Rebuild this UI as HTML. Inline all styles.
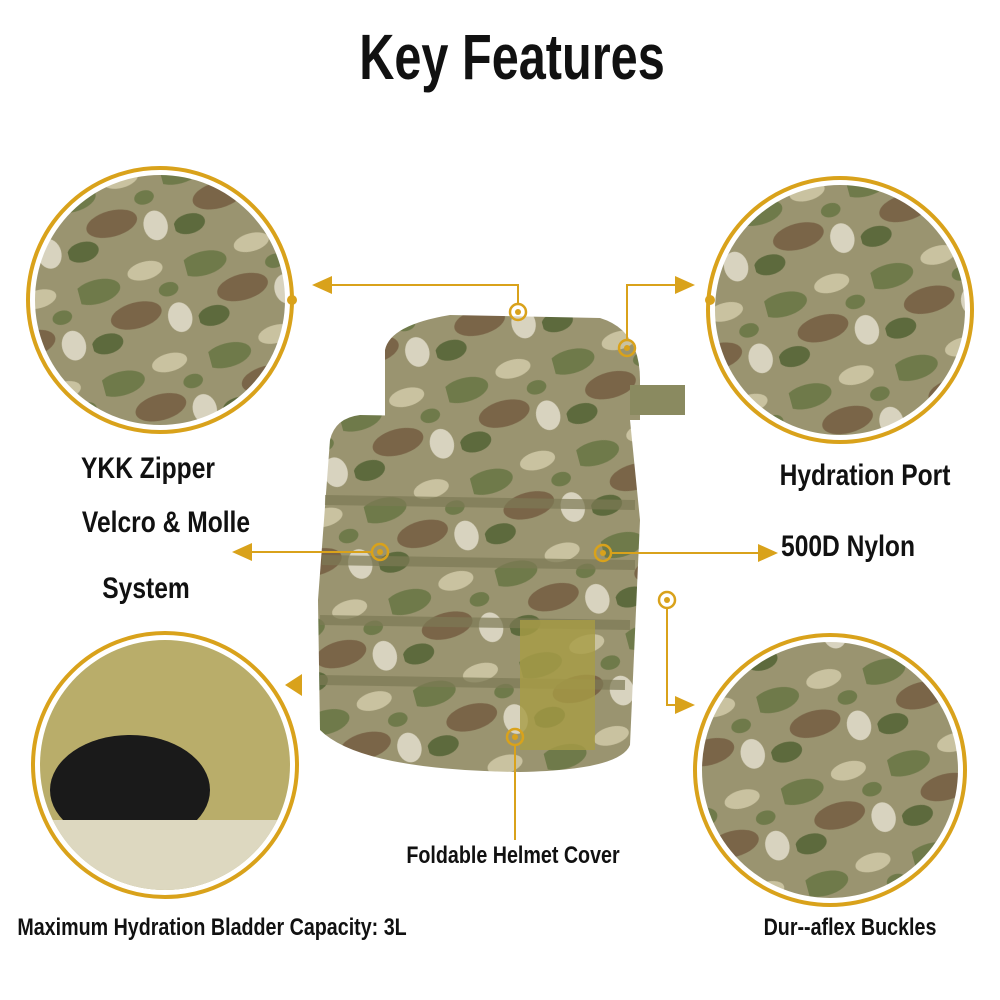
<!DOCTYPE html>
<html><head><meta charset="utf-8"><style>
html,body{margin:0;padding:0;background:#fff;}
body{width:1000px;height:1000px;position:relative;overflow:hidden;font-family:"Liberation Sans",sans-serif;}
.t{position:absolute;font-weight:bold;color:#111;white-space:nowrap;transform:translateX(-50%) scaleX(0.82);}
</style></head><body>
<svg width="1000" height="1000" style="position:absolute;left:0;top:0">
<defs>
<pattern id="camo" width="110" height="95" patternUnits="userSpaceOnUse" patternTransform="rotate(-15)">
<rect width="110" height="95" fill="#9a9470"/>
<ellipse cx="18" cy="22" rx="24" ry="12" fill="#6f7a4a"/>
<ellipse cx="70" cy="14" rx="18" ry="9" fill="#c9c2a0"/>
<ellipse cx="50" cy="55" rx="26" ry="13" fill="#7a6548"/>
<ellipse cx="92" cy="68" rx="12" ry="15" fill="#d8d3bf"/>
<ellipse cx="15" cy="75" rx="16" ry="10" fill="#5d6a3d"/>
<ellipse cx="88" cy="38" rx="10" ry="7" fill="#6f7a4a"/>
</pattern>
<clipPath id="c1"><circle cx="160" cy="300" r="125"/></clipPath>
<clipPath id="c2"><circle cx="840" cy="310" r="125"/></clipPath>
<clipPath id="c3"><circle cx="165" cy="765" r="125"/></clipPath>
<clipPath id="c4"><circle cx="830" cy="770" r="128"/></clipPath>
</defs>
<g fill="none" stroke="#d9a21b" stroke-width="4">
<circle cx="160" cy="300" r="132"/>
<circle cx="840" cy="310" r="132"/>
<circle cx="165" cy="765" r="132"/>
<circle cx="830" cy="770" r="135"/>
</g>
<rect x="20" y="160" width="290" height="280" fill="url(#camo)" clip-path="url(#c1)"/>
<rect x="700" y="170" width="290" height="280" fill="url(#camo)" clip-path="url(#c2)"/>
<g clip-path="url(#c3)"><rect x="30" y="630" width="270" height="270" fill="#b9ad6a"/>
<ellipse cx="130" cy="790" rx="80" ry="55" fill="#1a1a1a"/><rect x="30" y="820" width="270" height="80" fill="#ddd8c0"/></g>
<rect x="690" y="630" width="290" height="290" fill="url(#camo)" clip-path="url(#c4)"/>
<path d="M385 350 Q390 325 450 315 L600 318 Q640 330 640 380 L640 420 L385 420 Z" fill="url(#camo)"/>
<path d="M330 440 Q335 418 360 415 L630 420 L640 520 L630 745 Q620 770 520 772 Q360 770 320 730 L318 600 Z" fill="url(#camo)"/>
<g stroke="#7d7a55" stroke-width="10" opacity="0.7">
<line x1="325" y1="500" x2="635" y2="505"/><line x1="322" y1="560" x2="635" y2="565"/>
<line x1="320" y1="620" x2="630" y2="625"/><line x1="320" y1="680" x2="625" y2="685"/></g>
<rect x="520" y="620" width="75" height="130" fill="#a89c45" opacity="0.8"/>
<rect x="630" y="385" width="55" height="30" fill="#8a8a60"/>
<g stroke="#d9a21b" stroke-width="2" fill="none">
<polyline points="518,305 518,285 330,285"/>
<polyline points="627,340 627,285 680,285"/>
<line x1="372" y1="552" x2="250" y2="552"/>
<line x1="611" y1="553" x2="762" y2="553"/>
<polyline points="667,608 667,705 680,705"/>
<line x1="515" y1="745" x2="515" y2="840"/>
</g>
<g fill="#d9a21b">
<polygon points="312,285 332,276 332,294"/>
<polygon points="695,285 675,276 675,294"/>
<polygon points="232,552 252,543 252,561"/>
<polygon points="778,553 758,544 758,562"/>
<polygon points="695,705 675,696 675,714"/>
<polygon points="285,685 302,674 302,696"/>
<circle cx="292" cy="300" r="5"/><circle cx="710" cy="300" r="5"/>
</g>
<g fill="none" stroke="#d9a21b" stroke-width="2.5">
<circle cx="518" cy="312" r="8"/><circle cx="627" cy="348" r="8"/><circle cx="380" cy="552" r="8"/>
<circle cx="603" cy="553" r="8"/><circle cx="667" cy="600" r="8"/><circle cx="515" cy="737" r="8"/>
</g>
<g fill="#d9a21b">
<circle cx="518" cy="312" r="3"/><circle cx="627" cy="348" r="3"/><circle cx="380" cy="552" r="3"/>
<circle cx="603" cy="553" r="3"/><circle cx="667" cy="600" r="3"/><circle cx="515" cy="737" r="3"/>
</g>
</svg>
<div class="t" style="left:512px;top:20px;font-size:64px;transform:translateX(-50%) scaleX(0.76);">Key Features</div>
<div class="t" style="left:148px;top:452px;font-size:30px;">YKK Zipper</div>
<div class="t" style="left:166px;top:506px;font-size:30px;">Velcro &amp; Molle</div>
<div class="t" style="left:146px;top:572px;font-size:30px;">System</div>
<div class="t" style="left:865px;top:459px;font-size:30px;">Hydration Port</div>
<div class="t" style="left:848px;top:530px;font-size:30px;">500D Nylon</div>
<div class="t" style="left:513px;top:842px;font-size:24px;">Foldable Helmet Cover</div>
<div class="t" style="left:212px;top:914px;font-size:24px;">Maximum Hydration Bladder Capacity: 3L</div>
<div class="t" style="left:850px;top:914px;font-size:24px;">Dur--aflex Buckles</div>
</body></html>
